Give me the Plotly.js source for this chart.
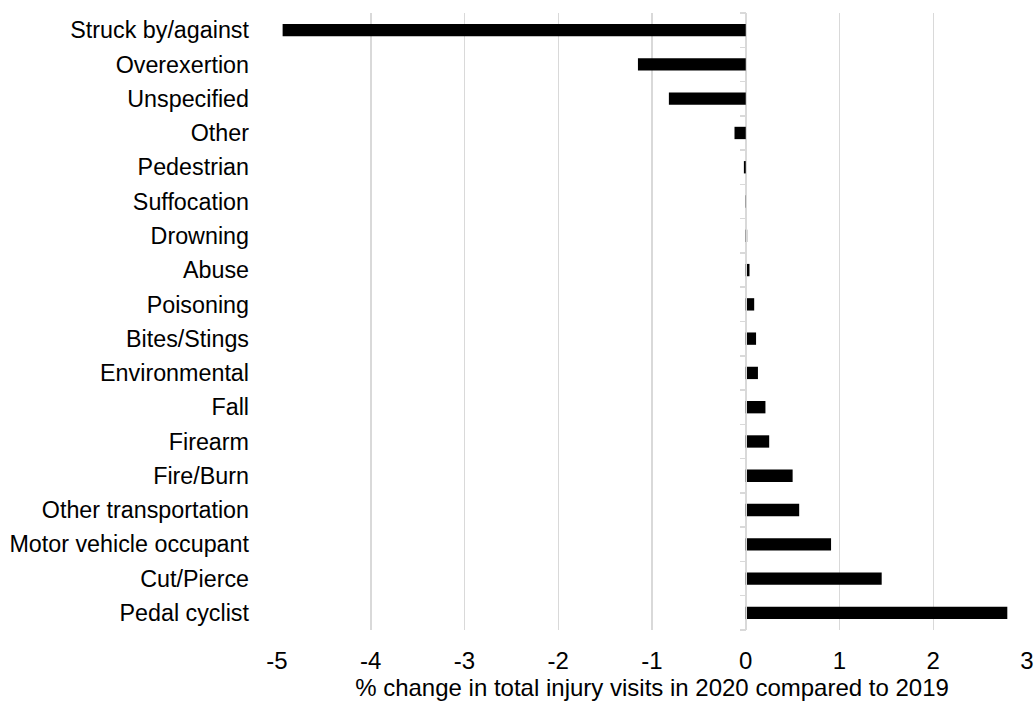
<!DOCTYPE html>
<html>
<head>
<meta charset="utf-8">
<script src="https://cdn.plot.ly/plotly-3.0.1.min.js"></script>
<style>html,body{margin:0;padding:0;background:#fff;}#chart{width:1035px;height:704px;}</style>
</head>
<body>
<div id="chart"></div>
<script>
const categories = ["Struck by/against","Overexertion","Unspecified","Other","Pedestrian","Suffocation","Drowning","Abuse","Poisoning","Bites/Stings","Environmental","Fall","Firearm","Fire/Burn","Other transportation","Motor vehicle occupant","Cut/Pierce","Pedal cyclist"];
const changes = [-4.94,-1.15,-0.82,-0.12,-0.02,0.005,0.015,0.04,0.09,0.11,0.13,0.21,0.25,0.50,0.57,0.91,1.45,2.79];
const xTicks = [-5,-4,-3,-2,-1,0,1,2,3];
const xTitle = "% change in total injury visits in 2020 compared to 2019";

const boundaries = [];
for (let i = 0; i <= categories.length; i++) boundaries.push(i - 0.5);

const traces = [{
  type: 'bar', orientation: 'h',
  x: changes, y: categories,
  marker: {color: '#000000', line: {width: 0}},
  width: 0.36,
  hoverinfo: 'x+y'
},{
  type: 'scatter', mode: 'markers',
  x: [0], y: [0], yaxis: 'y2',
  marker: {opacity: 0}, showlegend: false, hoverinfo: 'skip'
}];

const layout = {
  width: 1035, height: 704,
  margin: {l: 277, r: 8, t: 13, b: 74},
  paper_bgcolor: '#ffffff', plot_bgcolor: '#ffffff',
  showlegend: false,
  font: {family: 'Liberation Sans, Arial, sans-serif', color: '#000000', size: 23},
  xaxis: {
    range: [-5, 3], tickvals: xTicks, ticktext: xTicks.map(String),
    showgrid: true, gridcolor: '#d9d9d9', gridwidth: 1.5,
    zeroline: false, showline: false, ticks: '',
    tickfont: {size: 24},
    ticklabelstandoff: 14,
    title: {text: xTitle, font: {size: 24}, standoff: 6},
    automargin: false,
    fixedrange: true
  },
  yaxis: {
    type: 'category', categoryorder: 'array', categoryarray: categories,
    range: [categories.length - 0.5, -0.5],
    showgrid: false, zeroline: false, showline: false, ticks: '',
    ticklabelstandoff: 27, automargin: false,
    tickfont: {size: 23.3}
  },
  yaxis2: {
    overlaying: 'y', anchor: 'free', position: 0.625, side: 'left',
    range: [categories.length - 0.5, -0.5],
    tickvals: boundaries, showticklabels: false,
    ticks: 'outside', ticklen: 6, tickcolor: '#d9d9d9', tickwidth: 1.5,
    showline: true, linecolor: '#d9d9d9', linewidth: 1.5,
    showgrid: false, zeroline: false
  }
};

Plotly.newPlot('chart', traces, layout, {displayModeBar: false, staticPlot: true});
</script>
</body>
</html>
